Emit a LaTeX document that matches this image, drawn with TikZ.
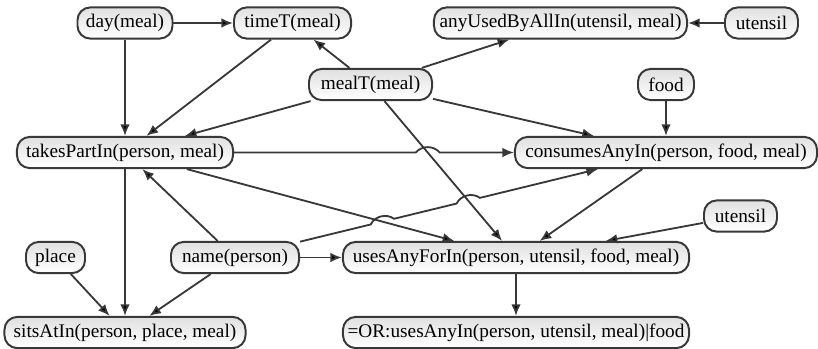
\documentclass[tikz,border=0pt]{standalone}
\usepackage{fontspec}
\setmainfont{Liberation Serif}
\usetikzlibrary{arrows.meta,calc}
\definecolor{edgegray}{HTML}{383838}
\definecolor{boxtop}{HTML}{E0E0E0}
\begin{document}
\begin{tikzpicture}[x=0.025cm,y=-0.025cm]
\useasboundingbox (0,0) rectangle (818,349);
\tikzstyle{every node}=[draw=edgegray,line width=1.4pt,rounded corners=3.2mm,top color=boxtop,bottom color=white,minimum height=0.78cm,inner sep=0pt,font=\fontsize{13.7}{16}\selectfont];
\tikzstyle{arr}=[draw=edgegray,line width=1.3pt,-{Latex[length=2.9mm,width=2.4mm]}];
\node[minimum width=2.375cm] (day) at (125,23) {day(meal)};
\node[minimum width=2.925cm] (time) at (292.5,23) {timeT(meal)};
\node[minimum width=6.325cm] (au) at (560.5,23) {anyUsedByAllIn(utensil, meal)};
\node[minimum width=1.825cm] (ut1) at (761.5,23) {utensil};
\node[minimum width=3.075cm] (mt) at (370.5,84.5) {mealT(meal)};
\node[minimum width=1.4cm] (food) at (666,84.5) {food};
\node[minimum width=5.4cm] (tp) at (125,152.5) {takesPartIn(person, meal)};
\node[minimum width=7.55cm] (ca) at (666,152.5) {consumesAnyIn(person, food, meal)};
\node[minimum width=1.825cm] (ut2) at (740.5,216) {utensil};
\node[minimum width=1.475cm] (place) at (55.5,257.5) {place};
\node[minimum width=3.2cm] (name) at (235,257.5) {name(person)};
\node[minimum width=8.65cm] (uaf) at (516,257.5) {usesAnyForIn(person, utensil, food, meal)};
\node[minimum width=6.025cm] (sits) at (125,332.5) {sitsAtIn(person, place, meal)};
\node[minimum width=8.65cm] (or) at (516,332.5) {=OR:usesAnyIn(person, utensil, meal)|food};
\draw[arr] (day) edge (time)
(day) edge (tp)
(time) edge (tp)
(mt) edge (time)
(mt) edge (tp)
(mt) edge (au)
(mt) edge (ca)
(mt) edge (uaf)
(ut1) edge (au)
(food) edge (ca)
(tp) edge (uaf)
(tp) edge (sits)
(name) edge (tp)
(name) edge (uaf)
(name) edge (sits)
(place) edge (sits)
(ca) edge (uaf)
(ut2) edge (uaf)
(uaf) edge (or);
% line hops
\coordinate (h1) at (intersection of tp--ca and mt--uaf);
\coordinate (h2) at (intersection of name--ca and tp--uaf);
\coordinate (h3) at (intersection of name--ca and mt--uaf);
\draw[arr] (tp) -- ($(h1)!3mm!(tp)$) to[bend left=50] ($(h1)!3mm!(ca)$) -- (ca);
\draw[arr] (name) -- ($(h2)!3mm!(name)$) to[bend left=50] ($(h2)!3mm!(ca)$)
 -- ($(h3)!3mm!(name)$) to[bend left=50] ($(h3)!3mm!(ca)$) -- (ca);
\end{tikzpicture}
\end{document}
